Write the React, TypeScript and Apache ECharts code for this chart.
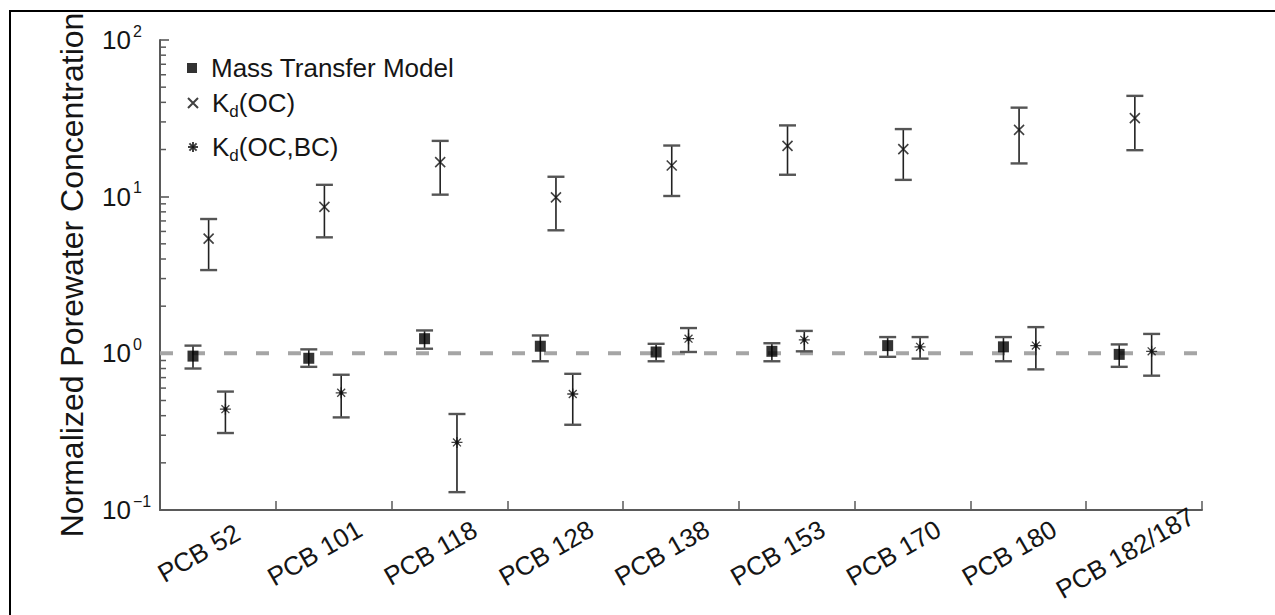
import React, { useEffect, useRef } from "react";
import * as echarts from "echarts";

// ---- data ----
const categories = ["PCB 52", "PCB 101", "PCB 118", "PCB 128", "PCB 138", "PCB 153", "PCB 170", "PCB 180", "PCB 182/187"];

const massTransferValue = [0.96, 0.93, 1.24, 1.11, 1.02, 1.03, 1.12, 1.10, 0.985];
const massTransferLow = [0.80, 0.82, 1.07, 0.89, 0.89, 0.89, 0.95, 0.89, 0.82];
const massTransferHigh = [1.12, 1.06, 1.40, 1.30, 1.15, 1.16, 1.27, 1.27, 1.14];

const kdOcValue = [5.4, 8.6, 16.6, 9.9, 15.8, 21.1, 20.1, 26.7, 31.7];
const kdOcLow = [3.4, 5.5, 10.3, 6.1, 10.1, 13.8, 12.8, 16.3, 19.8];
const kdOcHigh = [7.2, 11.9, 22.7, 13.4, 21.2, 28.5, 27.0, 37.0, 44.0];

const kdOcBcValue = [0.44, 0.56, 0.27, 0.55, 1.24, 1.22, 1.10, 1.12, 1.03];
const kdOcBcLow = [0.31, 0.39, 0.13, 0.35, 1.02, 1.03, 0.925, 0.79, 0.72];
const kdOcBcHigh = [0.57, 0.73, 0.41, 0.74, 1.45, 1.39, 1.27, 1.47, 1.33];

const referenceLevel = 1;
const yMin = 0.1;
const yMax = 100;
const minorTickValues = [
  0.2, 0.3, 0.4, 0.5, 0.6, 0.7, 0.8, 0.9,
  2, 3, 4, 5, 6, 7, 8, 9,
  20, 30, 40, 50, 60, 70, 80, 90,
];

// position of each group inside its category slot (fraction of the slot)
const SLOT = { mt: 0.285, oc: 0.42, bc: 0.565 };

const FONT = "'Liberation Sans', Arial, Helvetica, sans-serif";
const TEXT = "#151515";
const AXIS = "#5a5a5a";

const SQUARE_PATH = "path://M0,0L10,0L10,10L0,10Z";
const X_PATH = "path://M0,0L10,10M10,0L0,10";
const STAR_PATH =
  "path://M5,0L5,10M0,5L10,5M1.4,1.4L8.6,8.6M8.6,1.4L1.4,8.6M3.6,3.6L6.4,3.6L6.4,6.4L3.6,6.4Z";

function errorBarSeries(name: string, offset: number, low: number[], high: number[]) {
  return {
    type: "custom",
    id: "eb-" + name,
    xAxisIndex: 0,
    yAxisIndex: 0,
    z: 3,
    silent: true,
    data: categories.map((_, i) => [i + offset, low[i], high[i]]),
    encode: { x: 0, y: [1, 2] },
    renderItem: (params: any, api: any) => {
      const x = api.value(0);
      const lo = api.coord([x, api.value(1)]);
      const hi = api.coord([x, api.value(2)]);
      const w = 8.5;
      return {
        type: "group",
        children: [
          { type: "line", shape: { x1: lo[0], y1: lo[1], x2: hi[0], y2: hi[1] }, style: { stroke: "#222", lineWidth: 1.6 } },
          { type: "line", shape: { x1: lo[0] - w, y1: lo[1], x2: lo[0] + w, y2: lo[1] }, style: { stroke: "#555", lineWidth: 2.4 } },
          { type: "line", shape: { x1: hi[0] - w, y1: hi[1], x2: hi[0] + w, y2: hi[1] }, style: { stroke: "#555", lineWidth: 2.4 } },
        ],
      };
    },
  };
}

const legendCommon = {
  orient: "vertical",
  left: 182,
  itemWidth: 10,
  itemHeight: 10,
  selectedMode: false,
  formatter: (name: string) => (name.startsWith("Kd") ? `K{sub|d}${name.slice(2)}` : name),
  textStyle: {
    fontSize: 26,
    color: TEXT,
    fontFamily: FONT,
    padding: [0, 0, 0, 9],
    rich: { sub: { fontSize: 17, color: TEXT, fontFamily: FONT, padding: [16, 0, 0, 0] } },
  },
};

export default function App() {
  const ref = useRef<HTMLDivElement>(null);
  useEffect(() => {
    if (!ref.current) return;
    const chart = echarts.init(ref.current, undefined, { renderer: "svg" });
    const option: any = {
      animation: false,
      backgroundColor: "transparent",
      grid: [
        { left: 160, right: 73, top: 40, bottom: 105, outerBoundsMode: "none", containLabel: false },
        { left: 141, right: 92, top: 40, bottom: 105, outerBoundsMode: "none", containLabel: false },
      ],
      legend: [
        { ...legendCommon, top: 50, data: ["Mass Transfer Model"] },
        { ...legendCommon, top: 85, data: ["Kd(OC)"] },
        { ...legendCommon, top: 129, data: ["Kd(OC,BC)"] },
      ],
      xAxis: [
        {
          type: "value",
          gridIndex: 0,
          min: 0,
          max: categories.length,
          interval: 1,
          axisLine: { show: true, lineStyle: { color: AXIS, width: 2 } },
          axisTick: { show: true, inside: true, length: 9, lineStyle: { color: AXIS, width: 1.5 } },
          axisLabel: { show: false },
          splitLine: { show: false },
        },
        {
          type: "category",
          gridIndex: 1,
          data: categories,
          axisLine: { show: false },
          axisTick: { show: false },
          axisLabel: {
            rotate: 30,
            interval: 0,
            margin: 43,
            align: "center",
            verticalAlign: "middle",
            fontSize: 26,
            color: TEXT,
            fontFamily: FONT,
          },
          splitLine: { show: false },
        },
      ],
      yAxis: [
        {
          type: "log",
          logBase: 10,
          gridIndex: 0,
          position: "left",
          min: yMin,
          max: yMax,
          name: "Normalized Porewater Concentration",
          nameLocation: "middle",
          nameGap: 72,
          nameTextStyle: { fontSize: 32, color: TEXT, fontFamily: FONT },
          axisLine: { show: true, lineStyle: { color: AXIS, width: 2 } },
          axisTick: { show: true, inside: true, length: 9, lineStyle: { color: AXIS, width: 1.6 } },
          axisLabel: {
            align: "left",
            margin: 58,
            formatter: (v: number) => {
              const e = Math.round(Math.log10(v));
              return `{b|10}{s|${e < 0 ? "\u2212" + Math.abs(e) : e}}`;
            },
            rich: {
              b: { fontSize: 26, color: TEXT, fontFamily: FONT },
              s: { fontSize: 16, color: TEXT, fontFamily: FONT, padding: [0, 0, 18, 2] },
            },
          },
          splitLine: { show: false },
        },
        { type: "value", gridIndex: 1, show: false },
      ],
      series: [
        {
          // minor (log) ticks on the y axis, placed through the axis scale
          type: "custom",
          xAxisIndex: 0,
          yAxisIndex: 0,
          z: 2,
          silent: true,
          data: minorTickValues.map((v) => [0, v]),
          encode: { x: 0, y: 1 },
          renderItem: (params: any, api: any) => {
            const p = api.coord([api.value(0), api.value(1)]);
            return {
              type: "line",
              shape: { x1: p[0], y1: p[1], x2: p[0] + 6, y2: p[1] },
              style: { stroke: AXIS, lineWidth: 1.5 },
            };
          },
        },
        {
          type: "line",
          xAxisIndex: 0,
          yAxisIndex: 0,
          z: 1,
          silent: true,
          symbol: "none",
          data: [[0, referenceLevel], [categories.length, referenceLevel]],
          lineStyle: { color: "#a5a5a5", width: 4, type: [13, 19] },
        },
        errorBarSeries("mt", SLOT.mt, massTransferLow, massTransferHigh),
        errorBarSeries("oc", SLOT.oc, kdOcLow, kdOcHigh),
        errorBarSeries("bc", SLOT.bc, kdOcBcLow, kdOcBcHigh),
        {
          name: "Mass Transfer Model",
          type: "scatter",
          xAxisIndex: 0,
          yAxisIndex: 0,
          z: 5,
          symbol: SQUARE_PATH,
          symbolSize: 11,
          symbolKeepAspect: true,
          itemStyle: { color: "#000" },
          data: categories.map((_, i) => [i + SLOT.mt, massTransferValue[i]]),
        },
        {
          name: "Kd(OC)",
          type: "scatter",
          xAxisIndex: 0,
          yAxisIndex: 0,
          z: 5,
          symbol: X_PATH,
          symbolSize: 10,
          symbolKeepAspect: true,
          itemStyle: { color: "transparent", borderColor: "#111", borderWidth: 1.6 },
          data: categories.map((_, i) => [i + SLOT.oc, kdOcValue[i]]),
        },
        {
          name: "Kd(OC,BC)",
          type: "scatter",
          xAxisIndex: 0,
          yAxisIndex: 0,
          z: 5,
          symbol: STAR_PATH,
          symbolSize: 11,
          symbolKeepAspect: true,
          itemStyle: { color: "#000", borderColor: "#111", borderWidth: 1.3 },
          data: categories.map((_, i) => [i + SLOT.bc, kdOcBcValue[i]]),
        },
      ],
    };
    chart.setOption(option);
    return () => chart.dispose();
  }, []);

  return (
    <div style={{ position: "fixed", left: 0, top: 0, width: 1275, height: 615, overflow: "hidden", background: "#fff" }}>
      <div
        style={{
          position: "absolute",
          left: 9,
          top: 10,
          width: 1400,
          height: 800,
          borderLeft: "2px solid #000",
          borderTop: "2px solid #000",
        }}
      />
      <div ref={ref} style={{ position: "absolute", left: 0, top: 0, width: 1275, height: 615 }} />
    </div>
  );
}
